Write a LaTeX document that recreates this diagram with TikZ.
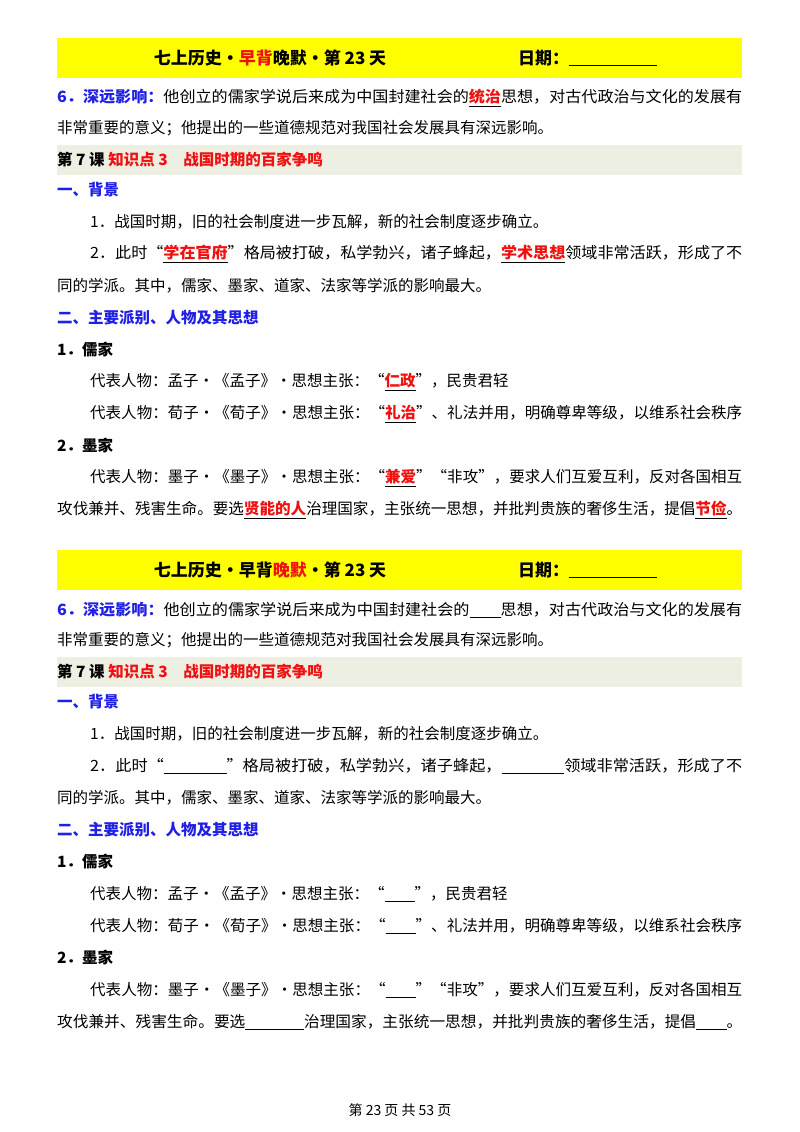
\documentclass[tikz,border=0pt]{standalone}
\usepackage{fontspec}
\usepackage{graphicx}
\setmainfont{Noto Sans CJK SC}
\definecolor{hdr}{HTML}{FFFF00}
\definecolor{band}{HTML}{EDEFE3}
\definecolor{blu}{HTML}{1F1FE6}
\definecolor{rd}{HTML}{F01010}
\newif\ifkey
\newcommand\myans[2]{\ifkey\underline{\textcolor{rd}{\textbf{#1}}}\else\underline{\hspace{#2}}\fi}
\newcommand\hl[1]{\ifkey\textcolor{rd}{#1}\else#1\fi}
\newcommand\fitw[2]{\resizebox{#1}{\height}{#2}}
\tikzset{x=1pt,y=-1pt,
 txt/.style={anchor=west,inner sep=0pt,font=\fontsize{15.5}{17}\selectfont},
 ttl/.style={anchor=center,inner sep=0pt,font=\fontsize{17}{19}\selectfont\bfseries}}
\newcommand\halfpage[2]{%
 \fill[hdr] (57,38+#1) rectangle (742,78+#1);
 \node[ttl] (t#2) at (270,58+#1) {七上历史·\hl{早背}\ifkey 晚默\else\textcolor{rd}{晚默}\fi·第 23 天};
 \node[ttl,anchor=west] (d#2) at (518,58+#1) {日期：\underline{\hspace{88pt}}};
 \node[txt] (a#2) at (57,98+#1) {\fitw{685pt}{\textcolor{blu}{\textbf{6．深远影响：}}他创立的儒家学说后来成为中国封建社会的\myans{统治}{30pt}思想，对古代政治与文化的发展有}};
 \node[txt] (b#2) at (57,128+#1) {非常重要的意义；他提出的一些道德规范对我国社会发展具有深远影响。};
 \fill[band] (57,145+#1) rectangle (742,175+#1);
 \node[txt] (c#2) at (57,160+#1) {\textbf{第 7 课 \textcolor{rd}{知识点 3\quad 战国时期的百家争鸣}}};
 \node[txt] (e#2) at (57,190+#1) {\textcolor{blu}{\textbf{一、背景}}};
 \node[txt] (f#2) at (90,222+#1) {1．战国时期，旧的社会制度进一步瓦解，新的社会制度逐步确立。};
 \node[txt] (g#2) at (90,254+#1) {\fitw{652pt}{2．此时“\myans{学在官府}{60pt}”格局被打破，私学勃兴，诸子蜂起，\myans{学术思想}{60pt}领域非常活跃，形成了不}};
 \node[txt] (h#2) at (57,286+#1) {同的学派。其中，儒家、墨家、道家、法家等学派的影响最大。};
 \node[txt] (i#2) at (57,318+#1) {\textcolor{blu}{\textbf{二、主要派别、人物及其思想}}};
 \node[txt] (j#2) at (57,350+#1) {\textbf{1．儒家}};
 \node[txt] (k#2) at (90,382+#1) {代表人物：孟子•《孟子》•思想主张：“\myans{仁政}{30pt}”，民贵君轻};
 \node[txt] (l#2) at (90,414+#1) {\fitw{652pt}{代表人物：荀子•《荀子》•思想主张：“\myans{礼治}{30pt}”、礼法并用，明确尊卑等级，以维系社会秩序}};
 \node[txt] (m#2) at (57,446+#1) {\textbf{2．墨家}};
 \node[txt] (n#2) at (90,478+#1) {\fitw{652pt}{代表人物：墨子•《墨子》•思想主张：“\myans{兼爱}{30pt}”“非攻”，要求人们互爱互利，反对各国相互}};
 \node[txt] (o#2) at (57,510+#1) {\fitw{685pt}{攻伐兼并、残害生命。要选\myans{贤能的人}{58pt}治理国家，主张统一思想，并批判贵族的奢侈生活，提倡\myans{节俭}{30pt}。}};
}
\begin{document}
\begin{tikzpicture}
\useasboundingbox[fill=white] (0,0) rectangle (800,1132);
\keytrue
\halfpage{0}{A}
\keyfalse
\halfpage{512}{B}
\node[anchor=center,inner sep=0pt,font=\fontsize{14}{15}\selectfont] (foot) at (400,1110) {第 23 页 共 53 页};
\end{tikzpicture}
\end{document}
